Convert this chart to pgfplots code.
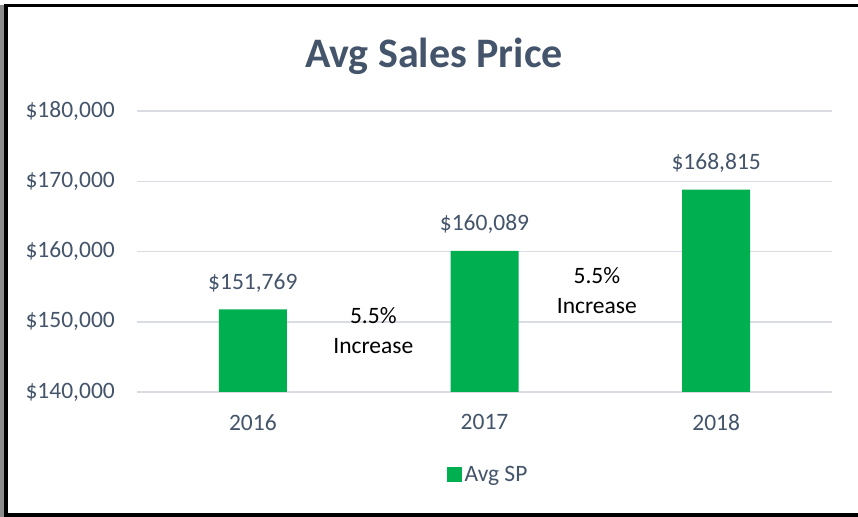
\documentclass[border=0pt]{standalone}
\usepackage{pgfplots}
\pgfplotsset{compat=1.18}
\usepackage{fontspec}
\setmainfont{Carlito}
\definecolor{barg}{HTML}{00B050}
\definecolor{txt}{HTML}{44546A}
\definecolor{gridc}{HTML}{D9DDE3}
\newcommand{\lbl}{\fontsize{23.5bp}{30bp}\selectfont}
\begin{document}
\begin{tikzpicture}
\clip (0bp,0bp) rectangle (858bp,517bp);
\fill[white] (0bp,0bp) rectangle (858bp,517bp);
\fill[black!45] (0bp,0bp) rectangle (4bp,512bp);
\draw[line width=3.5bp] (6bp,2bp) rectangle (880bp,511.5bp);
\node[text=txt, font=\fontsize{42bp}{50bp}\selectfont\bfseries] at (434bp,461bp) {Avg Sales Price};
\begin{axis}[
  at={(137bp,125bp)}, anchor=south west,
  scale only axis, width=695bp, height=281bp,
  xmin=-0.5, xmax=2.5, ymin=140000, ymax=180000,
  xtick={0,1,2}, xticklabels={2016,2017,2018},
  ytick={140000,150000,160000,170000,180000},
  scaled y ticks=false,
  yticklabel={\$\pgfmathprintnumber[fixed,precision=0,1000 sep={,}]{\tick}},
  /pgf/number format/assume math mode=true,
  axis line style={draw=none},
  major tick length=0pt,
  ymajorgrids, grid style={gridc, line width=1.5bp},
  ticklabel style={font=\lbl, text=txt, inner sep=0pt},
  yticklabel style={anchor=east, xshift=-22bp},
  xticklabel style={anchor=north, yshift=-22bp},
  legend style={at={(0.5058,-0.295)}, anchor=center, draw=none, font=\lbl, text=txt, inner sep=0pt, nodes={inner xsep=3bp, inner ysep=0pt}},
  clip=false,
]
\addplot[ybar, bar width=68bp, bar shift=0pt, fill=barg, draw=none,
  legend image code/.code={\fill[barg] (-3bp,-7.5bp) rectangle (12bp,7.5bp);},
  nodes near coords={\$\pgfmathprintnumber[fixed,precision=0,1000 sep={,}]{\pgfplotspointmeta}},
  every node near coord/.append style={anchor=base, inner sep=0pt, yshift=20bp, text=txt, font=\lbl},
] coordinates {(0,151769) (1,160089) (2,168815)};
\addlegendentry{Avg SP}
\node[align=center, font=\lbl, text=black] at (axis cs:0.52,148683) {5.5\%\\Increase};
\node[align=center, font=\lbl, text=black] at (axis cs:1.485,154377) {5.5\%\\Increase};
\end{axis}
\end{tikzpicture}
\end{document}
